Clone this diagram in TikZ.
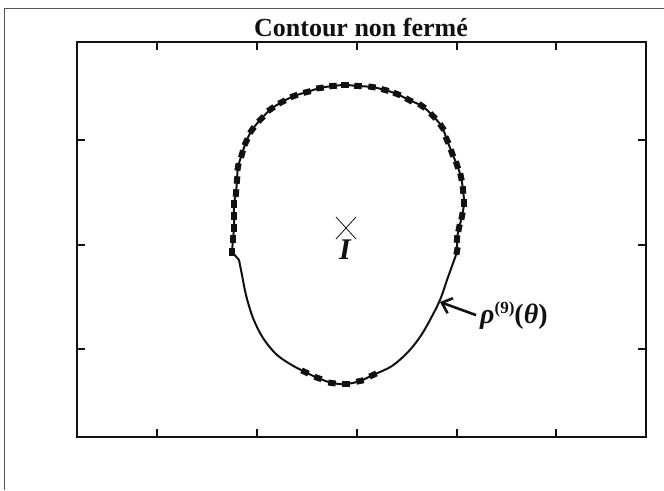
\documentclass[tikz,border=0pt]{standalone}
\usepackage{fontspec}
\setmainfont{Liberation Serif}
\usetikzlibrary{arrows.meta}
\definecolor{inkblack}{HTML}{111111}
\definecolor{bordergray}{HTML}{555555}

\begin{document}
\begin{tikzpicture}[x=1pt,y=-1pt,>={Straight Barb[length=9pt,width=16pt]},
 axis/.style={line width=1.3pt,inkblack},
 tick/.style={line width=1.2pt,inkblack},
 curve/.style={line width=2pt,inkblack,line join=round},
 mk/.style={fill=inkblack},
 lbl/.style={inner sep=0pt,text=inkblack}]
\useasboundingbox (0,0) rectangle (664,490);
\draw[bordergray,line width=0.9pt] (4,490) -- (4,8) -- (664,8);
\draw[axis] (77,42) rectangle (646,437);
\foreach \x in {157,257,357,457,556}{
 \draw[tick] (\x,42) -- ++(0,8);
 \draw[tick] (\x,437) -- ++(0,-8);}
\foreach \y in {140,245,349}{
 \draw[tick] (77,\y) -- ++(8,0);
 \draw[tick] (646,\y) -- ++(-8,0);}
\node[lbl,anchor=base,font=\fontsize{26}{26}\selectfont\bfseries] (t) at (361,36) {Contour non fermé};
\draw[curve] plot[smooth,tension=0.55] coordinates {(232,252) (233,239) (234,228) (234,216)
 (234,204) (236,193) (237,180) (238,167) (242,154) (246,142) (252,130) (261,119) (271,109)
 (282,102) (294,96) (307,92) (320,88) (333,86) (345,85) (358,86) (372,87) (385,90) (397,94)
 (409,100) (422,106) (433,116) (442,127) (447,140) (452,153) (457,165) (461,177) (463,190)
 (464,203) (462,216) (459,228) (457,239) (457,251) (452,266) (447,280) (440,300) (430,320)
 (420,337) (408,352) (392,366) (373,375) (360,381) (346,384) (332,383) (318,378) (305,372)
 (290,364) (276,354) (263,338) (253,318) (246,295) (242,275) (239,260)} -- (232,252);
\foreach \x/\y/\a in {232/252/90,233/239/90,234/228/90,234/216/90,234/204/90,236/193/85,
 237/180/85,238/167/80,242/154/75,246/142/65,252/130/55,261/119/45,271/109/35,282/102/27,
 294/96/20,307/92/14,320/88/8,333/86/4,345/85/0,358/86/-3,372/87/-8,385/90/-15,397/94/-22,
 409/100/-28,422/106/-35,433/116/-45,442/127/-55,447/140/-65,452/153/-70,457/165/-72,
 461/177/-78,463/190/-85,464/203/-90,462/216/80,459/228/78,457/239/85,457/251/80,
 305/372/-25,318/378/-20,332/383/-8,346/384/0,360/381/12,373/375/25}
 \fill[mk,rotate around={\a:(\x,\y)}] (\x-3.8,\y-3) rectangle (\x+3.8,\y+3);
\coordinate (ctr) at (346,228);
\draw[inkblack,line width=0.8pt] (ctr) +(-10,-11) -- +(10,11) (ctr) +(-10,11) -- +(10,-11);
\node[lbl,anchor=base,font=\fontsize{30}{30}\selectfont\bfseries\itshape] (i) at (345,259) {I};
\coordinate (tip) at (440,302);
\node[lbl,anchor=base west,font=\fontsize{28}{28}\selectfont\bfseries] (rho) at (480,323)
 {\itshape ρ\upshape\raisebox{10pt}{\fontsize{17}{17}\selectfont(9)}(\itshape θ\upshape)};
\draw[->,line width=2.6pt,inkblack] ([xshift=-4pt]rho.west) -- (tip);
\end{tikzpicture}
\end{document}
